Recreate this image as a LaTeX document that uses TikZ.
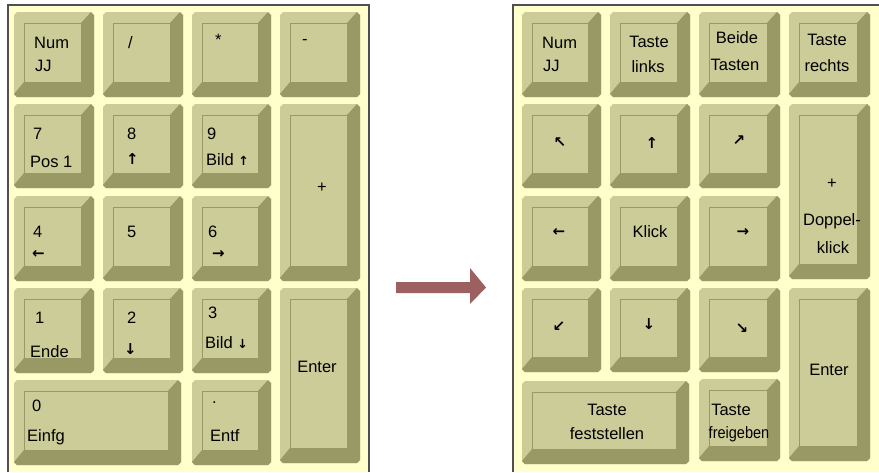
\documentclass[tikz,border=0pt]{standalone}
\usepackage{fontspec}
\setmainfont{Liberation Sans}
\newfontfamily\arrfont{DejaVu Sans}
\definecolor{keyface}{HTML}{CCCC99}
\definecolor{keydark}{HTML}{999966}
\definecolor{panelbg}{HTML}{FFFFCC}
\definecolor{framec}{HTML}{505050}
\definecolor{arrowc}{RGB}{156,96,96}
\tikzset{
  lbl/.style={font=\fontsize{16.5}{18}\selectfont, inner sep=0pt, text=black},
  sym/.style={font=\arrfont\bfseries\fontsize{15}{16}\selectfont, inner sep=0pt, text=black},
  frameline/.style={draw=framec, line width=2},
}
% \keycap{x1}{y1}{x2}{y2}
\newcommand\keycap[4]{%
  \fill[keyface] (#1+3,#2) -- (#3-3,#2) -- (#3,#2+3) -- (#3,#4-3) -- (#3-3,#4)
     -- (#1+3,#4) -- (#1,#4-3) -- (#1,#2+3) -- cycle;
  \fill[keydark] (#3-13,#2+11) -- (#3-3,#2) -- (#3,#2+3) -- (#3,#4-3) -- (#3-3,#4)
     -- (#1+3,#4) -- (#1,#4-3) -- (#1+10,#4-15) -- (#3-13,#4-15) -- cycle;
  \draw[keydark, line width=1] (#1+10,#4-15) -- (#1+10,#2+11) -- (#3-13,#2+11);
}
\newcommand\smallarr[1]{{\arrfont\bfseries\fontsize{12.5}{14}\selectfont#1}}
\begin{document}
\begin{tikzpicture}[x=1pt,y=-1pt]
\useasboundingbox (0,0) rectangle (879,472);
\fill[white] (0,0) rectangle (879,472);
% panels
\fill[panelbg] (8,5) rectangle (369,472);
\draw[frameline] (8,472) -- (8,5) -- (369,5) -- (369,472);
\fill[panelbg] (513,5) rectangle (879,472);
\draw[frameline] (513,472) -- (513,5) -- (880,5);

% ---------- left keypad ----------
\keycap{14}{12}{94}{97}
\keycap{103}{12}{183}{97}
\keycap{192}{12}{271}{97}
\keycap{280}{12}{360}{97}
\keycap{14}{104}{94}{188}
\keycap{103}{104}{183}{188}
\keycap{192}{104}{271}{188}
\keycap{280}{104}{360}{281}
\keycap{14}{196}{94}{281}
\keycap{103}{196}{183}{281}
\keycap{192}{196}{271}{281}
\keycap{14}{288}{94}{373}
\keycap{103}{288}{183}{373}
\keycap{192}{288}{271}{373}
\keycap{280}{288}{360}{463}
\keycap{14}{380}{181}{465}
\keycap{192}{380}{271}{465}

\node[lbl, anchor=west] (lnum) at (34,43) {Num};
\node[lbl, anchor=west] (lnumb) at (35,66) {JJ};
\node[lbl, anchor=west] (ldiv) at (128,43) {/};
\node[lbl, anchor=west] (lmul) at (215,40) {*};
\node[lbl, anchor=west] (lminus) at (302,42) {-};
\node[lbl, anchor=west] (l7) at (33,134) {7};
\node[lbl, anchor=west] (lpos) at (30,162) {Pos 1};
\node[lbl, anchor=west] (l8) at (127,134) {8};
\node[sym, anchor=west] (lup) at (126,159) {↑};
\node[lbl, anchor=west] (l9) at (207,134) {9};
\node[lbl, anchor=west] (lbildup) at (206,160) {Bild \smallarr{↑}};
\node[lbl] (lplus) at (322,188) {+};
\node[lbl, anchor=west] (l4) at (33,232) {4};
\node[sym, anchor=west] (lleft) at (32,254) {←};
\node[lbl, anchor=west] (l5) at (127,232) {5};
\node[lbl, anchor=west] (l6) at (208,232) {6};
\node[sym, anchor=west] (lright) at (212,254) {→};
\node[lbl, anchor=west] (l1) at (35,318) {1};
\node[lbl, anchor=west] (lende) at (30,352) {Ende};
\node[lbl, anchor=west] (l2) at (127,318) {2};
\node[sym, anchor=west] (ldown) at (124,349) {↓};
\node[lbl, anchor=west] (l3) at (208,313) {3};
\node[lbl, anchor=west] (lbilddown) at (205,343) {Bild \smallarr{↓}};
\node[lbl] (lenter) at (317,367) {Enter};
\node[lbl, anchor=west] (l0) at (32,406) {0};
\node[lbl, anchor=west] (leinfg) at (27,437) {Einfg};
\node[lbl, anchor=west] (ldot) at (212,403) {.};
\node[lbl, anchor=west] (lentf) at (210,436) {Entf};

% ---------- arrow ----------
\fill[arrowc] (396,282) -- (470,282) -- (470,268) -- (486,287.5) -- (470,304)
   -- (470,293) -- (396,293) -- cycle;

% ---------- right keypad ----------
\keycap{522}{12}{601}{97}
\keycap{610}{12}{690}{97}
\keycap{699}{12}{780}{97}
\keycap{789}{12}{870}{97}
\keycap{522}{104}{601}{188}
\keycap{610}{104}{690}{188}
\keycap{699}{104}{780}{188}
\keycap{789}{104}{870}{279}
\keycap{522}{196}{601}{281}
\keycap{610}{196}{690}{281}
\keycap{699}{196}{780}{281}
\keycap{522}{288}{601}{372}
\keycap{610}{288}{690}{372}
\keycap{699}{288}{780}{372}
\keycap{789}{288}{870}{461}
\keycap{522}{381}{689}{464}
\keycap{699}{379}{780}{461}

\node[lbl, anchor=west] (rnum) at (542,43) {Num};
\node[lbl, anchor=west] (rnumb) at (543,66) {JJ};
\node[lbl] (rtl1) at (649,42) {Taste};
\node[lbl] (rtl2) at (648,67) {links};
\node[lbl] (rbt1) at (737,38) {Beide};
\node[lbl] (rbt2) at (735,65) {Tasten};
\node[lbl] (rtr1) at (827,40) {Taste};
\node[lbl] (rtr2) at (827,66) {rechts};
\node[sym] (rnw) at (560,143) {↖};
\node[sym] (rn) at (652,143) {↑};
\node[sym] (rne) at (739,141) {↗};
\node[lbl] (rplus) at (832,184) {+};
\node[lbl] (rdk1) at (832,221) {Doppel-};
\node[lbl] (rdk2) at (833,248) {klick};
\node[sym] (rw) at (559,232) {←};
\node[lbl] (rklick) at (650,232) {Klick};
\node[sym] (re) at (743,232) {→};
\node[sym] (rsw) at (559,327) {↙};
\node[sym] (rs) at (649,324) {↓};
\node[sym] (rse) at (742,329) {↘};
\node[lbl] (renter) at (829,370) {Enter};
\node[lbl] (rtf1) at (607,410) {Taste};
\node[lbl] (rtf2) at (607,434) {feststellen};
\node[lbl] (rtg1) at (731,410) {Taste};
\node[lbl, xscale=0.88] (rtg2) at (739,434) {freigeben};
\end{tikzpicture}
\end{document}
